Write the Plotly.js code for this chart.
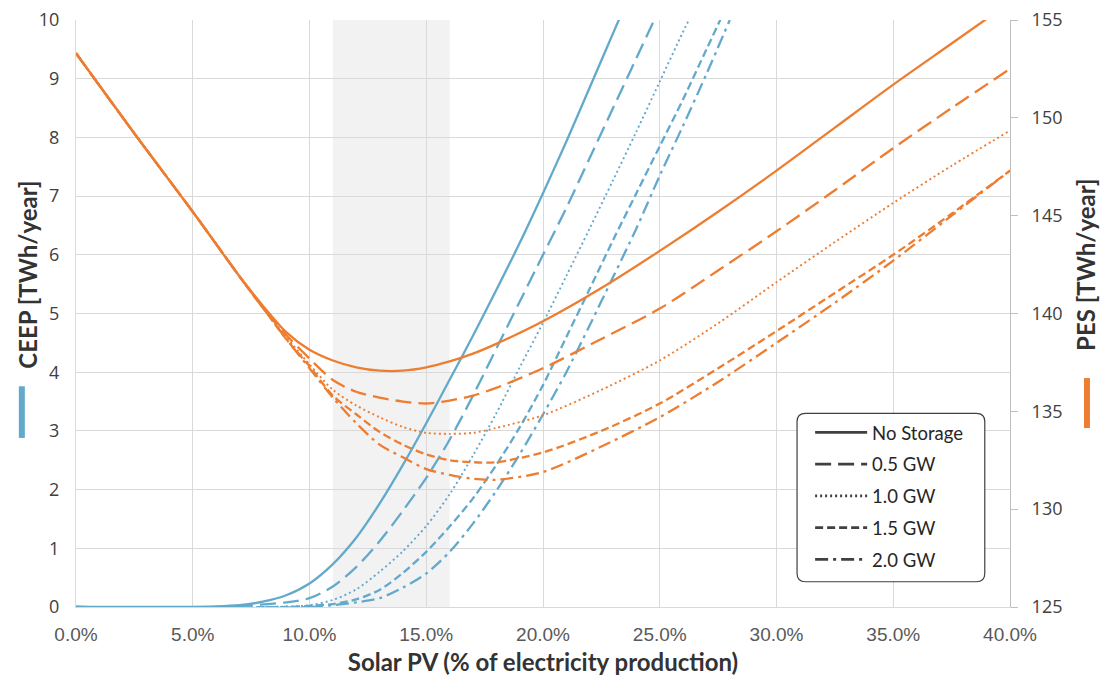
<!DOCTYPE html>
<html>
<head>
<meta charset="utf-8">
<script src="https://cdn.plot.ly/plotly-3.0.1.min.js"></script>
<style>html,body{margin:0;padding:0;background:#fff;}#chart{width:1104px;height:684px;}</style>
</head>
<body>
<div id="chart"></div>
<script>
// ---- Data (x in % of electricity production) ----
const seriesNames = ['No Storage', '0.5 GW', '1.0 GW', '1.5 GW', '2.0 GW'];
const xTickVals = [0, 5, 10, 15, 20, 25, 30, 35, 40];
const xTickText = ['0.0%', '5.0%', '10.0%', '15.0%', '20.0%', '25.0%', '30.0%', '35.0%', '40.0%'];
const bandRange = [11, 16];
const leftTitle = 'CEEP [TWh/year]';
const rightTitle = 'PES [TWh/year]';
const xTitle = 'Solar PV (% of electricity production)';

// PES [TWh/year] (right axis)
const pesX = [0, 2.5, 5, 7, 8, 9, 10, 11, 12, 13, 14, 15, 16, 17, 18, 20, 22.5, 25, 27.5, 30, 32.5, 35, 37.5, 40];
const pesNoStorage = [153.3, 149.2, 145.2, 141.9, 140.4, 139.05, 138.15, 137.6, 137.25, 137.08, 137.08, 137.25, 137.55, 137.95, 138.45, 139.6, 141.3, 143.2, 145.2, 147.3, 149.5, 151.7, 153.8, 155.9];
const pes05 = [153.3, 149.2, 145.2, 141.9, 140.3, 138.9, 137.7, 136.6, 136.0, 135.7, 135.5, 135.4, 135.55, 135.8, 136.2, 137.2, 138.7, 140.25, 142.2, 144.2, 146.3, 148.45, 150.5, 152.5];
const pes10 = [153.3, 149.2, 145.2, 141.9, 140.3, 138.8, 137.4, 136.1, 135.3, 134.7, 134.2, 133.9, 133.85, 133.9, 134.15, 134.8, 136.1, 137.6, 139.5, 141.6, 143.65, 145.65, 147.55, 149.35];
const pes15 = [153.3, 149.2, 145.2, 141.9, 140.3, 138.7, 137.3, 135.8, 134.85, 133.95, 133.3, 132.8, 132.5, 132.4, 132.4, 132.9, 134.0, 135.4, 137.2, 139.1, 141.05, 143.0, 145.1, 147.3];
const pes20 = [153.3, 149.2, 145.2, 141.9, 140.3, 138.7, 137.2, 135.7, 134.4, 133.3, 132.65, 132.05, 131.75, 131.55, 131.5, 131.9, 133.2, 134.7, 136.5, 138.5, 140.55, 142.7, 145.0, 147.3];

// CEEP [TWh/year] (left axis)
const ceepNoStorageX = [0, 4, 6, 7, 8, 9, 10, 11, 12, 13, 14, 15, 16, 17, 18, 19, 20, 21, 22, 23.3];
const ceepNoStorage = [0, 0, 0.01, 0.03, 0.09, 0.2, 0.4, 0.73, 1.18, 1.76, 2.42, 3.13, 3.87, 4.62, 5.4, 6.2, 7.05, 7.93, 8.85, 10.05];
const ceep05X = [0, 6, 7.5, 9, 10, 11, 12, 13, 14, 15, 16, 17, 18, 19, 20, 21, 22, 23, 24, 25];
const ceep05 = [0, 0, 0.03, 0.08, 0.15, 0.35, 0.68, 1.12, 1.64, 2.2, 2.85, 3.6, 4.4, 5.2, 6.0, 6.8, 7.65, 8.5, 9.35, 10.2];
const ceep10X = [0, 8, 10, 11, 12, 13, 14, 15, 16, 17, 18, 19, 20, 21, 22, 23, 24, 25, 26, 26.5];
const ceep10 = [0, 0, 0.03, 0.12, 0.3, 0.6, 0.95, 1.38, 1.92, 2.58, 3.3, 4.08, 4.84, 5.64, 6.45, 7.27, 8.1, 8.95, 9.8, 10.2];
const ceep15X = [0, 9, 10, 11, 12, 13, 14, 15, 16, 17, 18, 19, 20, 21, 22, 23, 24, 25, 26, 27, 28];
const ceep15 = [0, 0, 0.02, 0.05, 0.13, 0.29, 0.58, 0.94, 1.37, 1.85, 2.42, 3.06, 3.78, 4.6, 5.42, 6.25, 7.05, 7.85, 8.65, 9.5, 10.35];
const ceep20X = [0, 10, 11, 12, 13, 14, 15, 16, 17, 18, 19, 20, 21, 22, 23, 24, 25, 26, 27, 28];
const ceep20 = [0, 0, 0.03, 0.08, 0.15, 0.33, 0.57, 0.94, 1.42, 1.98, 2.6, 3.28, 4.0, 4.8, 5.62, 6.45, 7.35, 8.2, 9.08, 10.0];

// ---- Styles ----
const BLUE = '#62A9CC';
const ORANGE = '#ED7D31';
const DARK = '#404040';
const dashes = ['solid', '16px,7px', '2px,3px', '8px,4px', '13px,5px,3px,5px'];
const widths = [2.3, 2.3, 1.9, 2.3, 2.3];

const pesSeries = [pesNoStorage, pes05, pes10, pes15, pes20];
const ceepXs = [ceepNoStorageX, ceep05X, ceep10X, ceep15X, ceep20X];
const ceepSeries = [ceepNoStorage, ceep05, ceep10, ceep15, ceep20];

const traces = [];
ceepSeries.forEach((ys, i) => {
  traces.push({
    x: ceepXs[i], y: ys, yaxis: 'y', type: 'scatter', mode: 'lines',
    name: 'CEEP ' + seriesNames[i], showlegend: false, hoverinfo: 'x+y',
    line: {color: BLUE, width: widths[i], dash: dashes[i], shape: 'spline', smoothing: 0.8}
  });
});
pesSeries.forEach((ys, i) => {
  traces.push({
    x: pesX, y: ys, yaxis: 'y2', type: 'scatter', mode: 'lines',
    name: 'PES ' + seriesNames[i], showlegend: false, hoverinfo: 'x+y',
    line: {color: ORANGE, width: widths[i], dash: dashes[i], shape: 'spline', smoothing: 0.8}
  });
});
// legend entries
seriesNames.forEach((n, i) => {
  traces.push({
    x: [null], y: [null], type: 'scatter', mode: 'lines', name: n,
    legendgroup: 'g' + i, showlegend: true, hoverinfo: 'skip',
    line: {color: DARK, width: 2.6, dash: dashes[i]}
  });
});

// legend frame (paper coords)
const lx0 = 0.772, lx1 = 0.973, ly0 = 0.043, ly1 = 0.330, rx = 0.009, ry = 0.014;
const framePath = `M${lx0 + rx},${ly1} L${lx1 - rx},${ly1} Q${lx1},${ly1} ${lx1},${ly1 - ry} L${lx1},${ly0 + ry} Q${lx1},${ly0} ${lx1 - rx},${ly0} L${lx0 + rx},${ly0} Q${lx0},${ly0} ${lx0},${ly0 + ry} L${lx0},${ly1 - ry} Q${lx0},${ly1} ${lx0 + rx},${ly1} Z`;

const titleFont = {family: 'Lato, sans-serif', size: 24, color: '#333333', weight: 'bold'};
const layout = {
  width: 1104, height: 684,
  margin: {l: 76, r: 94, t: 20, b: 77},
  paper_bgcolor: '#ffffff', plot_bgcolor: '#ffffff',
  font: {family: 'Open Sans, sans-serif', color: DARK},
  showlegend: true,
  xaxis: {
    range: [0, 40], tickvals: xTickVals, ticktext: xTickText,
    showgrid: true, gridcolor: '#d9d9d9', gridwidth: 1, zeroline: false,
    showline: true, linecolor: '#d9d9d9', ticks: '', ticklabelstandoff: 10,
    tickfont: {family: 'Liberation Sans Narrow, Arial Narrow, sans-serif', size: 19, color: '#595959'},
    title: {text: xTitle, standoff: 10, font: titleFont}
  },
  yaxis: {
    range: [0, 10], dtick: 1, showgrid: true, gridcolor: '#d9d9d9', zeroline: false,
    showline: true, linecolor: '#d9d9d9', ticks: '', ticklabelstandoff: 12,
    tickfont: {family: 'Open Sans, sans-serif', size: 18, color: DARK}
  },
  yaxis2: {
    range: [125, 155], dtick: 5, overlaying: 'y', side: 'right', showgrid: false, zeroline: false,
    showline: true, linecolor: '#bfbfbf', ticks: 'outside', ticklen: 7, tickcolor: '#bfbfbf',
    ticklabelstandoff: 10,
    tickfont: {family: 'Open Sans, sans-serif', size: 18, color: DARK}
  },
  annotations: [
    {text: leftTitle, xref: 'paper', yref: 'paper', x: -0.0514, y: 0.566, textangle: -90,
     showarrow: false, xanchor: 'center', yanchor: 'middle', font: titleFont},
    {text: rightTitle, xref: 'paper', yref: 'paper', x: 1.0815, y: 0.583, textangle: -90,
     showarrow: false, xanchor: 'center', yanchor: 'middle', font: titleFont}
  ],
  legend: {
    x: lx0 + 0.014, y: ly1 - 0.001, xanchor: 'left', yanchor: 'top',
    bgcolor: 'rgba(0,0,0,0)', borderwidth: 0, traceorder: 'grouped', tracegroupgap: 4.7,
    itemwidth: 52,
    font: {family: 'Lato, sans-serif', size: 18.5, color: '#262626'}
  },
  shapes: [
    {type: 'rect', xref: 'x', yref: 'paper', x0: bandRange[0], x1: bandRange[1], y0: 0, y1: 1,
     fillcolor: '#f2f2f2', line: {width: 0}, layer: 'below'},
    {type: 'path', xref: 'paper', yref: 'paper', path: framePath,
     line: {color: DARK, width: 1.2}, fillcolor: 'rgba(255,255,255,0.95)', layer: 'above'},
    {type: 'rect', xref: 'paper', yref: 'paper', x0: -0.0612, x1: -0.0548, y0: 0.288, y1: 0.376,
     fillcolor: BLUE, line: {width: 0}},
    {type: 'rect', xref: 'paper', yref: 'paper', x0: 1.0792, x1: 1.0856, y0: 0.305, y1: 0.390,
     fillcolor: ORANGE, line: {width: 0}}
  ]
};

Plotly.newPlot('chart', traces, layout, {displayModeBar: false, staticPlot: true});
</script>
</body>
</html>
